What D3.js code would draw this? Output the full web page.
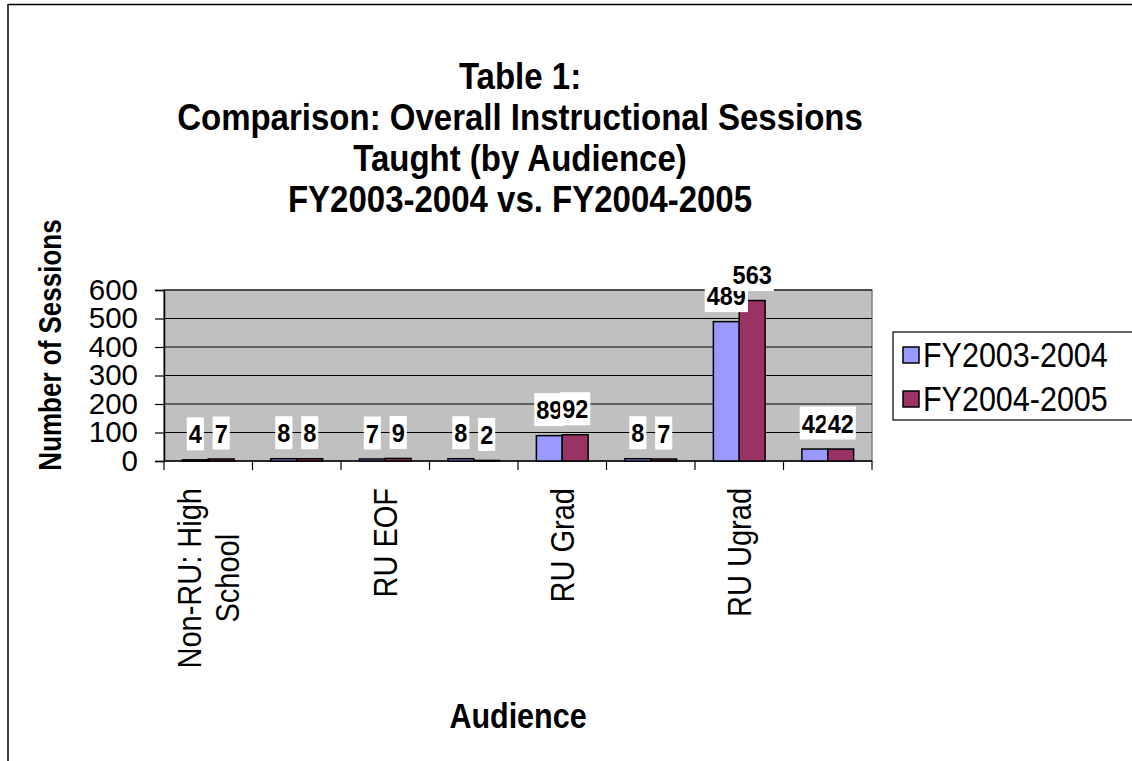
<!DOCTYPE html>
<head>
  <meta charset="utf-8">
  <script src="https://cdn.jsdelivr.net/npm/d3@7"></script>
  <style>
    body { margin:0; background:#fff; overflow:hidden; }
    text { font-family: "Liberation Sans", Arial, sans-serif; }
  </style>
</head>
<body>
<script>
var categories = ["Non-RU: High School", "Non-RU: Other", "RU EOF", "RU Faculty/Staff",
                  "RU Grad", "RU Other", "RU Ugrad", "Other"];
var shownLabels = ["Non-RU: High School", "RU EOF", "RU Grad", "RU Ugrad"];
var series = ["FY2003-2004", "FY2004-2005"];
var fy0304 = [4, 8, 7, 8, 89, 8, 489, 42];
var fy0405 = [7, 8, 9, 2, 92, 7, 563, 42];
var yTicks = [0, 100, 200, 300, 400, 500, 600];
var titleLines = ["Table 1:", "Comparison: Overall Instructional Sessions",
                  "Taught (by Audience)", "FY2003-2004 vs. FY2004-2005"];
var colors = ["#9999FF", "#993366"];

var width = 1132, height = 761;
var plot = {left: 164, right: 872, top: 290, bottom: 461};
var k = 1.13; // glyphs in the original are a bit taller than Liberation Sans

var svg = d3.select("body").append("svg")
  .attr("width", width)
  .attr("height", height);

// outer chart frame (only top and left edges are visible)
svg.append("line").attr("x1", 8).attr("x2", width).attr("y1", 4.5).attr("y2", 4.5)
  .attr("stroke", "#000").attr("stroke-width", 1.5);
svg.append("line").attr("x1", 8).attr("x2", 8).attr("y1", 4).attr("y2", height)
  .attr("stroke", "#000").attr("stroke-width", 1.5);

// title
svg.append("g").selectAll("text")
  .data(titleLines)
  .enter().append("text")
  .attr("transform", function(d, i) { return "translate(520," + (89 + i * 41) + ") scale(1," + k + ")"; })
  .attr("text-anchor", "middle")
  .attr("font-size", 33)
  .attr("font-weight", "bold")
  .text(function(d) { return d; });

var x0 = d3.scaleBand().domain(categories).range([plot.left, plot.right]).padding(0);
var x1 = d3.scaleBand().domain(series).range([0, x0.bandwidth()]).paddingInner(0).paddingOuter(0.71);
var y = d3.scaleLinear().domain([0, 600]).range([plot.bottom, plot.top]);

// plot area
svg.append("rect")
  .attr("x", plot.left).attr("y", plot.top)
  .attr("width", plot.right - plot.left).attr("height", plot.bottom - plot.top)
  .attr("fill", "#C0C0C0").attr("stroke", "#808080").attr("stroke-width", 1.5);

svg.append("g").selectAll("line")
  .data(yTicks.slice(1))
  .enter().append("line")
  .attr("x1", plot.left).attr("x2", plot.right)
  .attr("y1", function(d) { return y(d); })
  .attr("y2", function(d) { return y(d); })
  .attr("stroke", "#000").attr("stroke-width", 1);

// y axis
var yAxis = svg.append("g")
  .attr("transform", "translate(" + plot.left + ",0)")
  .call(d3.axisLeft(y).tickValues(yTicks).tickSize(9).tickPadding(17));
yAxis.select(".domain").attr("stroke", "#000").attr("stroke-width", 1.5);
yAxis.selectAll(".tick line").attr("stroke", "#000").attr("stroke-width", 1.2);
yAxis.selectAll("text").attr("font-size", 29.5).attr("font-family", "Liberation Sans, Arial, sans-serif")
  .attr("fill", "#000");

// x axis: ticks at category boundaries
var bounds = categories.map(function(c) { return x0(c); }).concat([plot.right]);
svg.append("line")
  .attr("x1", plot.left).attr("x2", plot.right)
  .attr("y1", plot.bottom).attr("y2", plot.bottom)
  .attr("stroke", "#000").attr("stroke-width", 1.5);
svg.append("g").selectAll("line")
  .data(bounds)
  .enter().append("line")
  .attr("x1", function(d) { return d; }).attr("x2", function(d) { return d; })
  .attr("y1", plot.bottom).attr("y2", plot.bottom + 9)
  .attr("stroke", "#000").attr("stroke-width", 1.2);

// bars
var rows = categories.map(function(c, i) {
  return {cat: c, vals: [{s: series[0], v: fy0304[i], k: 0}, {s: series[1], v: fy0405[i], k: 1}]};
});

var groups = svg.append("g").selectAll("g")
  .data(rows)
  .enter().append("g")
  .attr("transform", function(d) { return "translate(" + x0(d.cat) + ",0)"; });

groups.selectAll("rect")
  .data(function(d) { return d.vals; })
  .enter().append("rect")
  .attr("x", function(d) { return x1(d.s); })
  .attr("y", function(d) { return y(d.v); })
  .attr("width", x1.bandwidth())
  .attr("height", function(d) { return plot.bottom - y(d.v); })
  .attr("fill", function(d) { return colors[d.k]; })
  .attr("stroke", "#000").attr("stroke-width", 1.5);

// data labels with white boxes
var labels = groups.selectAll("g.lab")
  .data(function(d) { return d.vals; })
  .enter().append("g")
  .attr("class", "lab")
  .attr("transform", function(d) {
    return "translate(" + (x1(d.s) + x1.bandwidth() / 2) + "," + (y(d.v) - 26) + ")";
  });
labels.append("text")
  .attr("text-anchor", "middle")
  .attr("transform", "scale(1," + k + ")")
  .attr("dy", "0.36em")
  .attr("font-size", 23.5)
  .attr("font-weight", "bold")
  .text(function(d) { return d.v; });
labels.each(function() {
  var g = d3.select(this);
  var bb = g.select("text").node().getBBox();
  g.insert("rect", "text")
    .attr("x", bb.x - 2).attr("y", -16.5)
    .attr("width", bb.width + 4).attr("height", 33)
    .attr("fill", "#fff");
});

// category labels (every other one, as in the original)
var xl = svg.append("g").selectAll("g")
  .data(shownLabels)
  .enter().append("g")
  .attr("transform", function(d) {
    return "translate(" + (x0(d) + x0.bandwidth() / 2) + ",488) rotate(-90) scale(1," + k + ")";
  });
xl.each(function(d) {
  var g = d3.select(this);
  var lines = d === "Non-RU: High School" ? ["Non-RU: High", "School"] : [d];
  var t = g.append("text").attr("font-size", 29).attr("text-anchor", "middle");
  lines.forEach(function(l, i) {
    t.append("tspan").attr("x", 0)
      .attr("y", (i - (lines.length - 1) / 2) * 33)
      .attr("dy", "0.36em")
      .text(l);
  });
  var w = t.node().getBBox().width;
  t.attr("transform", "translate(" + (-w / 2) + ",0)");
});

// axis titles
svg.append("text")
  .attr("transform", "translate(61,345) rotate(-90) scale(1," + (k + 0.07) + ")")
  .attr("text-anchor", "middle")
  .attr("font-size", 26)
  .attr("font-weight", "bold")
  .text("Number of Sessions");

svg.append("text")
  .attr("transform", "translate(518,728) scale(1," + k + ")")
  .attr("text-anchor", "middle")
  .attr("font-size", 30.5)
  .attr("font-weight", "bold")
  .text("Audience");

// legend
var legend = svg.append("g");
legend.append("rect")
  .attr("x", 893).attr("y", 332).attr("width", 260).attr("height", 88)
  .attr("fill", "#fff").attr("stroke", "#000").attr("stroke-width", 1.2);
var li = legend.selectAll("g.item")
  .data(series)
  .enter().append("g")
  .attr("class", "item")
  .attr("transform", function(d, i) { return "translate(903," + (355 + i * 44) + ")"; });
li.append("rect")
  .attr("x", 0).attr("y", -8).attr("width", 16).attr("height", 16)
  .attr("fill", function(d, i) { return colors[i]; })
  .attr("stroke", "#000").attr("stroke-width", 1.5);
li.append("text")
  .attr("x", 20)
  .attr("transform", "scale(1," + k + ")")
  .attr("dy", "0.36em")
  .attr("font-size", 30.5)
  .text(function(d) { return d; });
</script>
</body>
